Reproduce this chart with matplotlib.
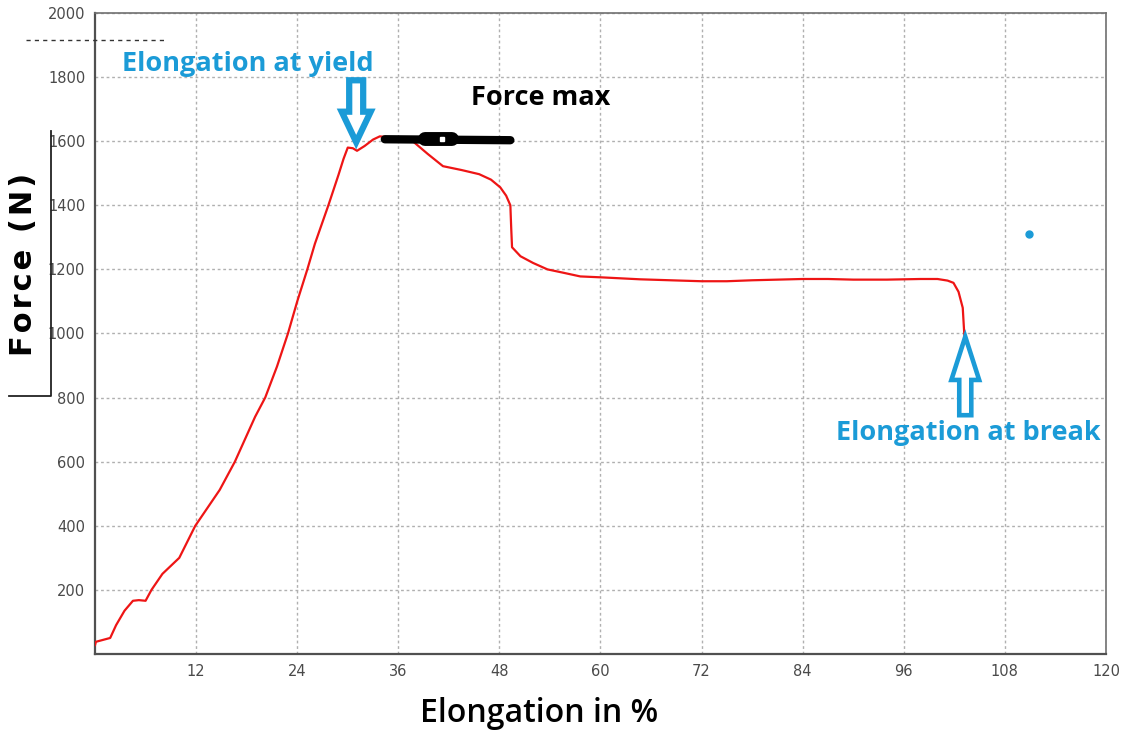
import numpy as np
import matplotlib
matplotlib.use("Agg")
import matplotlib.pyplot as plt
from matplotlib.patches import FancyArrow

# tensile test curve
elong = [0, 0.1, 1.8, 2.5, 3.5, 4.5, 5.2, 6.0, 6.7, 8.0, 10.0, 11.9, 14.8,
         16.6, 19.0, 20.2, 21.6, 22.9, 24.0, 25.2, 26.1, 27.7, 28.9, 29.5,
         30.0, 30.6, 31.1, 32.0, 33.0, 33.8, 35.0, 36.5, 37.8, 39.5, 41.3,
         43.5, 45.6, 47.0, 48.1, 48.8, 49.3, 49.4, 49.5, 50.5, 52.0, 53.7,
         55.5, 57.6, 60.2, 64.7, 69.5, 72.0, 75.0, 78.0, 81.0, 84.0, 87.0,
         90.0, 94.0, 98.0, 100.0, 101.2, 101.9, 102.5, 103.0, 103.2]
force = [28, 38, 50, 90, 135, 166, 168, 166, 200, 250, 300, 400, 512,
         600, 740, 800, 897, 1000, 1100, 1200, 1280, 1400, 1495, 1545,
         1580, 1578, 1570, 1585, 1605, 1615, 1612, 1610, 1598, 1560, 1522,
         1510, 1497, 1480, 1456, 1430, 1400, 1330, 1269, 1241, 1220, 1200,
         1190, 1178, 1175, 1169, 1165, 1163, 1163, 1166, 1168, 1170, 1170,
         1168, 1168, 1170, 1170, 1165, 1158, 1130, 1080, 990]

xticks = [12, 24, 36, 48, 60, 72, 84, 96, 108, 120]
yticks = [200, 400, 600, 800, 1000, 1200, 1400, 1600, 1800, 2000]

yield_pt = (31.0, 1597)   # arrow tip
break_pt = (103.3, 990)
fmax_line = (34.4, 49.3, 1606)
stray_dot = (110.9, 1309)

BLUE = '#1b9bd7'
GRID = '#b0b0b0'

fig = plt.figure(figsize=(11.26, 7.33), dpi=100, facecolor='white')
ax = fig.add_axes([0.0844, 0.1078, 0.8978, 0.8745])

ax.plot(elong, force, color='#ee1515', lw=1.6, zorder=3)

ax.set_xlim(0, 120)
ax.set_ylim(0, 2000)
ax.set_xticks(xticks)
ax.set_yticks(yticks)
ax.grid(True, color=GRID, linestyle=(0, (2, 2)), lw=1)
ax.tick_params(length=0, labelsize=10.5, labelcolor='#4a4a4a', pad=7)
for s in ax.spines.values():
    s.set_color('#707070')
    s.set_linewidth(1.2)
ax.spines['left'].set_color('#505050')
ax.spines['bottom'].set_color('#505050')
ax.spines['left'].set_linewidth(1.6)
ax.spines['bottom'].set_linewidth(1.6)

# hollow arrow at yield (pointing down)
ax.add_patch(FancyArrow(yield_pt[0], 1790, 0, yield_pt[1] - 1790, width=1.66,
                        head_width=3.44, head_length=95, length_includes_head=True,
                        facecolor='white', edgecolor=BLUE, lw=4.5, zorder=5))
# hollow arrow at break (pointing up)
ax.add_patch(FancyArrow(break_pt[0], 745, 0, break_pt[1] - 745, width=1.43,
                        head_width=3.3, head_length=135, length_includes_head=True,
                        facecolor='white', edgecolor=BLUE, lw=3.3, zorder=5))

# hand-drawn black marker for force max
ax.plot([fmax_line[0], fmax_line[1]], [fmax_line[2], fmax_line[2] - 3],
        color='black', lw=6, solid_capstyle='round', zorder=6)
ax.plot([39.2, 42.4], [fmax_line[2], fmax_line[2]], color='black', lw=10,
        solid_capstyle='round', zorder=6)
ax.plot([41.2], [fmax_line[2]], 's', color='white', ms=2.5, zorder=7)

ax.plot([stray_dot[0]], [stray_dot[1]], 'o', color=BLUE, ms=5, zorder=5)

ax.text(3.2, 1840, 'Elongation at yield', color=BLUE, fontsize=19.5,
        family='Open Sans', weight='bold', va='center', ha='left')
ax.text(44.6, 1735, 'Force max', color='black', fontsize=19.5,
        family='Open Sans', weight='bold', va='center', ha='left')
ax.text(87.9, 690, 'Elongation at break', color=BLUE, fontsize=19.5,
        family='Open Sans', weight='bold', va='center', ha='left')

# axis titles, placed in figure pixels
W, H = 1126, 733
fig.text(539 / W, 1 - 714 / H, 'Elongation in %', fontsize=23,
         family='Open Sans', weight='semibold', ha='center', va='center')
fig.text(24 / W, 1 - 264 / H, '\u200a'.join('Force (N)'), fontsize=22,
         family='DejaVu Sans', weight='bold', rotation=90, ha='center', va='center')

# bracket line next to the y title and dashed scrap at top
fig.add_artist(plt.Line2D([51 / W, 51 / W, 9 / W], [1 - 131 / H, 1 - 396 / H, 1 - 396 / H],
                          color='#222222', lw=1.3))
fig.add_artist(plt.Line2D([26 / W, 165 / W], [1 - 40 / H, 1 - 40 / H],
                          color='#333333', lw=1.0, linestyle=(0, (3, 3))))

fig.savefig('out.png', dpi=100, facecolor='white')
